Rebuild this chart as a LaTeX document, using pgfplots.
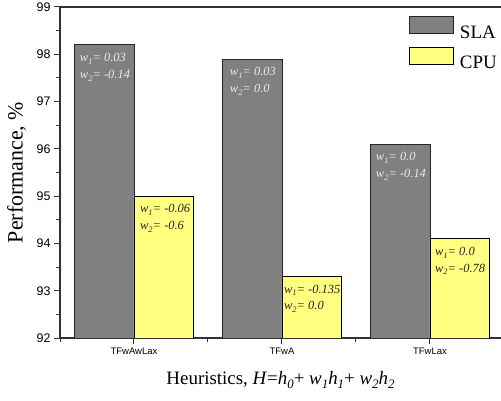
\documentclass[border=0pt]{standalone}
\usepackage{fontspec}
\setmainfont{Liberation Serif}
\newfontfamily\arial{Liberation Sans}
\usepackage{graphicx}
\usepackage{pgfplots}
\pgfplotsset{compat=1.18}

\definecolor{slagray}{RGB}{128,128,128}
\definecolor{cpuyellow}{RGB}{255,255,128}
\definecolor{axisgray}{RGB}{50,50,50}
\definecolor{notewhite}{RGB}{235,235,235}

% low italic subscript, as in the original figure
\newcommand{\sub}[1]{\raisebox{-0.5ex}{\scalebox{0.68}{\textit{#1}}}}
\newcommand{\ww}[2]{\textit{w\sub{#1}= #2}}

\begin{document}
\begin{tikzpicture}
\useasboundingbox (0,0) rectangle (501bp,401bp);
\begin{axis}[
    at={(60bp,63bp)}, anchor=south west,
    scale only axis,
    width=441bp, height=331bp,
    xmin=-0.5, xmax=2.48,
    ymin=92, ymax=99,
    ybar,
    bar width=0.4,
    legend image code/.code={\draw[#1, line width=0.9bp] (0bp,-1bp) rectangle (44bp,16bp);},
    axis x line*=box,
    axis y line*=left,
    xtick pos=left,
    ytick pos=left,
    tick align=outside,
    xtick={0,1,2},
    xticklabels={TFwAwLax,TFwA,TFwLax},
    minor xtick={-0.5,0.5,1.5},
    ytick={92,93,...,99},
    minor y tick num=1,
    major tick length=6bp,
    minor tick length=3.5bp,
    axis line style={line width=1.1bp, draw=axisgray},
    tick style={line width=1bp, draw=axisgray},
    /pgf/number format/assume math mode=true,
    yticklabel style={font=\arial\fontsize{12.5}{12.5}\selectfont},
    xticklabel style={font=\arial\fontsize{9.5}{9.5}\selectfont},
    xlabel={Heuristics, \textit{H}=\textit{h}\sub{0}+ \textit{w}\sub{1}\textit{h}\sub{1}+ \textit{w}\sub{2}\textit{h}\sub{2}},
    ylabel={Performance, \%},
    xlabel style={font=\fontsize{19}{19}\selectfont, at={(axis description cs:0.5,0)}, anchor=base, yshift=-46bp},
    ylabel style={font=\fontsize{22}{22}\selectfont, at={(axis description cs:-0.0986,0.5)}, anchor=center},
    legend style={at={(1,1)}, anchor=north east, xshift=-4bp, yshift=-9bp,
        draw=none, fill=none, inner sep=0pt, row sep=7bp, column sep=6bp,
        font=\fontsize{19}{19}\selectfont, nodes={inner sep=0pt}},
    legend cell align=left,
]
\addplot[fill=slagray, draw=black!85, line width=0.9bp, bar shift=-0.2]
    coordinates {(0,98.2) (1,97.9) (2,96.1)};
\addplot[fill=cpuyellow, draw=black, line width=0.9bp, bar shift=0.2]
    coordinates {(0,95.0) (1,93.3) (2,94.1)};
\legend{SLA,CPU}

\begin{scope}[every node/.style={anchor=north west, inner sep=0pt, align=left, font=\fontsize{12.5}{17}\selectfont}]
\node[text=notewhite, xshift=5bp, yshift=-8bp] at (axis cs:-0.4,98.2) {\ww{1}{0.03}\\\ww{2}{-0.14}};
\node[text=notewhite, xshift=7bp, yshift=-8bp] at (axis cs:0.6,97.9) {\ww{1}{0.03}\\\ww{2}{0.0}};
\node[text=notewhite, xshift=5bp, yshift=-8bp] at (axis cs:1.6,96.1) {\ww{1}{0.0}\\\ww{2}{-0.14}};
\node[text=black!85, xshift=6bp, yshift=-8bp] at (axis cs:0,95.0) {\ww{1}{-0.06}\\\ww{2}{-0.6}};
\node[text=black!85, xshift=2bp, yshift=-8bp] at (axis cs:1,93.3) {\ww{1}{-0.135}\\\ww{2}{0.0}};
\node[text=black!85, xshift=5bp, yshift=-8bp] at (axis cs:2,94.1) {\ww{1}{0.0}\\\ww{2}{-0.78}};
\end{scope}
\end{axis}
\end{tikzpicture}
\end{document}
